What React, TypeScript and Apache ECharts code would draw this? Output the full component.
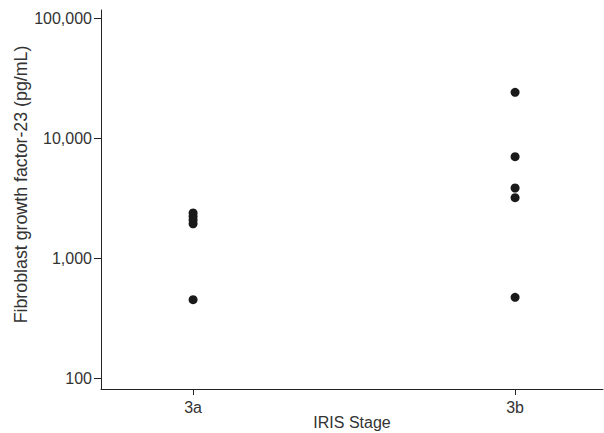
import React, { useEffect, useRef } from "react";
import * as echarts from "echarts";

const categories = ["3a", "3b"];
const stage3a = [455, 1950, 2100, 2250, 2400];
const stage3b = [476, 3220, 3880, 7080, 24300];
const yTicks = [100, 1000, 10000, 100000];

export default function App() {
  const ref = useRef<HTMLDivElement>(null);
  useEffect(() => {
    const chart = echarts.init(ref.current!, null, { renderer: "svg" });
    const groups = [stage3a, stage3b];
    const data: number[][] = [];
    groups.forEach((g, i) => g.forEach((v) => data.push([i, v])));
    const axisColor = "#222";
    const textColor = "#333";
    const font = "Liberation Sans";
    chart.setOption({
      animation: false,
      grid: { left: 101, right: 1, top: 10, bottom: 44, outerBoundsMode: "none", containLabel: false },
      xAxis: {
        type: "value",
        min: -0.286,
        max: 1.273,
        name: "IRIS Stage",
        nameLocation: "middle",
        nameGap: 25,
        nameMoveOverlap: false,
        nameTextStyle: { fontFamily: font, fontSize: 16, color: textColor },
        splitLine: { show: false },
        axisLine: { onZero: false, lineStyle: { color: axisColor, width: 1 } },
        axisTick: { show: true, length: 6, lineStyle: { color: axisColor }, customValues: [0, 1] },
        axisLabel: {
          customValues: [0, 1],
          formatter: (v: number) => categories[Math.round(v)] ?? "",
          fontFamily: font,
          fontSize: 16,
          color: textColor,
          margin: 10,
        },
      },
      yAxis: {
        type: "log",
        logBase: 10,
        min: 82,
        max: 118000,
        name: "Fibroblast growth factor-23 (pg/mL)",
        nameLocation: "middle",
        nameGap: 71,
        nameMoveOverlap: false,
        nameTextStyle: { fontFamily: font, fontSize: 17.8, color: textColor, padding: [0, 0, 0, 30] },
        splitLine: { show: false },
        axisLine: { show: true, onZero: false, lineStyle: { color: axisColor, width: 1 } },
        axisTick: { show: true, length: 7, lineStyle: { color: axisColor }, customValues: yTicks },
        axisLabel: {
          customValues: yTicks,
          formatter: (v: number) => Math.round(v).toLocaleString("en-US"),
          fontFamily: font,
          fontSize: 16,
          color: textColor,
          margin: 9,
        },
      },
      series: [
        {
          type: "scatter",
          data,
          symbol: "circle",
          symbolSize: 9,
          itemStyle: { color: "#1a1a1a", opacity: 1 },
        },
      ],
    });
    return () => chart.dispose();
  }, []);
  return <div ref={ref} style={{ width: 604, height: 433, position: "absolute", left: 0, top: 0 }} />;
}
